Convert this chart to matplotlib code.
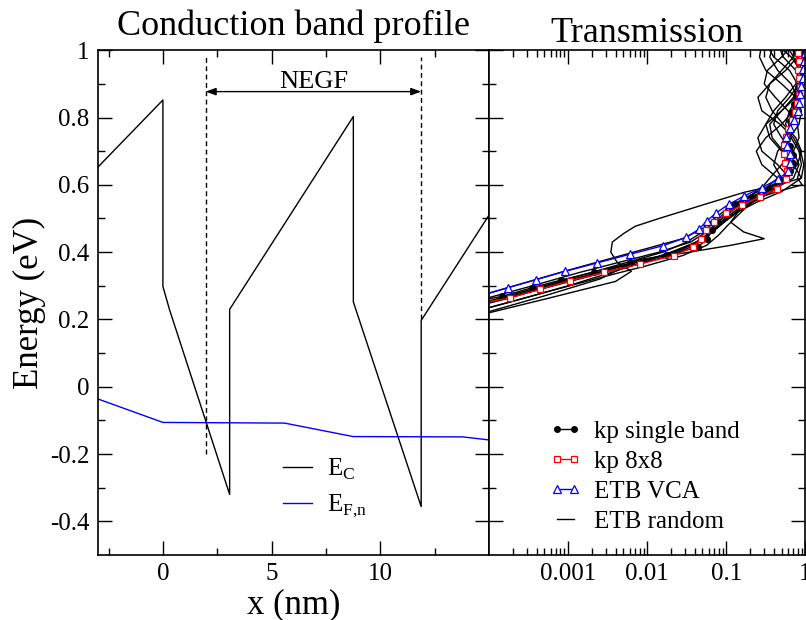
import numpy as np
import matplotlib
matplotlib.use('Agg')
import matplotlib.pyplot as plt
from matplotlib.ticker import FixedLocator, LogLocator, NullFormatter

plt.rcParams['font.family'] = ['Liberation Serif', 'DejaVu Serif']
plt.rcParams['mathtext.fontset'] = 'custom'
plt.rcParams['mathtext.rm'] = 'Liberation Serif'
plt.rcParams['axes.unicode_minus'] = False

# Conduction band profile (x in nm, energy in eV)
ec_x = [-3, 0, 0, 0.3, 3.07, 3.07, 8.76, 8.76, 11.88, 11.88, 15]
ec_e = [0.652, 0.852, 0.298, 0.23, -0.32, 0.23, 0.803, 0.252, -0.356, 0.197, 0.51]
ef_x = [-3, 0, 5.6, 8.75, 13.8, 15]
ef_e = [-0.036, -0.106, -0.108, -0.148, -0.149, -0.158]
negf_x = [1.97, 11.88]
negf_lo = [-0.2, 0.2]
negf_hi = 0.98
negf_arrow_e = 0.877

# Transmission: energy (eV) and log10(T)
sb_e = [0.244, 0.269, 0.294, 0.317, 0.341, 0.367, 0.391, 0.415, 0.44, 0.467, 0.49, 0.515,
        0.542, 0.565, 0.588, 0.615, 0.64, 0.665, 0.69, 0.715, 0.74, 0.765, 0.79, 0.815,
        0.84, 0.865, 0.89, 0.915, 0.94, 0.965, 0.99, 1.015]
sb_logt = [-4.38, -3.83, -3.46, -3.09, -2.67, -2.22, -1.76, -1.36, -1.24, -1.186, -1.1, -1.0,
           -0.884, -0.675, -0.474, -0.3, -0.2, -0.16, -0.15, -0.19, -0.23, -0.22, -0.2, -0.17,
           -0.14, -0.12, -0.09, -0.06, -0.035, -0.02, -0.012, -0.01]

kp8_e = [0.24, 0.264, 0.289, 0.315, 0.34, 0.365, 0.39, 0.415, 0.44, 0.465, 0.49, 0.515,
         0.54, 0.565, 0.589, 0.616, 0.641, 0.666, 0.692, 0.717, 0.742, 0.767, 0.792, 0.817,
         0.842, 0.867, 0.892, 0.917, 0.942, 0.967, 0.992, 1.017]
kp8_logt = [-4.25, -3.74, -3.36, -2.975, -2.54, -2.085, -1.66, -1.42, -1.323, -1.262, -1.15, -1.005,
            -0.805, -0.57, -0.358, -0.24, -0.235, -0.256, -0.264, -0.27, -0.25, -0.222, -0.17, -0.13,
            -0.1, -0.08, -0.065, -0.075, -0.095, -0.075, -0.095, -0.08]

vca_e = [0.269, 0.294, 0.318, 0.343, 0.368, 0.394, 0.419, 0.444, 0.468, 0.493, 0.517, 0.542,
         0.567, 0.592, 0.617, 0.641, 0.666, 0.691, 0.716, 0.742, 0.768, 0.793, 0.818, 0.844,
         0.869, 0.893, 0.918, 0.943, 0.968, 0.993, 1.018]
vca_logt = [-4.14, -3.765, -3.407, -3.037, -2.631, -2.212, -1.8, -1.507, -1.345, -1.245, -1.126, -0.969,
            -0.772, -0.55, -0.344, -0.214, -0.2, -0.19, -0.23, -0.243, -0.2, -0.138, -0.097, -0.075,
            -0.063, -0.05, -0.035, -0.025, -0.015, -0.01, -0.008]

rnd_e = [
    [0.214, 0.26, 0.313, 0.343, 0.37, 0.40, 0.43, 0.455, 0.477, 0.50, 0.54, 0.578, 0.60, 0.62,
     0.66, 0.70, 0.74, 0.78, 0.82, 0.86, 0.90, 0.94, 0.98, 1.02],
    [0.21, 0.27, 0.32, 0.378, 0.398, 0.42, 0.44, 0.46, 0.489, 0.52, 0.55, 0.58, 0.62,
     0.66, 0.70, 0.74, 0.78, 0.82, 0.86, 0.90, 0.94, 0.98, 1.02],
    [0.22, 0.278, 0.30, 0.343, 0.395, 0.44, 0.47, 0.50, 0.53, 0.56, 0.59, 0.62,
     0.66, 0.70, 0.74, 0.78, 0.82, 0.86, 0.90, 0.94, 0.98, 1.02],
    [0.215, 0.235, 0.28, 0.33, 0.36, 0.39, 0.42, 0.45, 0.48, 0.51, 0.54, 0.57, 0.60, 0.62,
     0.66, 0.70, 0.74, 0.78, 0.82, 0.86, 0.90, 0.94, 0.98, 1.02],
    [0.22, 0.265, 0.30, 0.34, 0.37, 0.40, 0.43, 0.46, 0.49, 0.52, 0.55, 0.58, 0.62,
     0.66, 0.70, 0.74, 0.78, 0.82, 0.86, 0.90, 0.94, 0.98, 1.02],
    [0.21, 0.26, 0.30, 0.34, 0.37, 0.40, 0.43, 0.46, 0.49, 0.52, 0.55, 0.58, 0.62,
     0.66, 0.70, 0.74, 0.78, 0.82, 0.86, 0.90, 0.94, 0.98, 1.02],
    [0.23, 0.255, 0.30, 0.34, 0.37, 0.40, 0.43, 0.46, 0.49, 0.52, 0.55, 0.58, 0.60, 0.62,
     0.66, 0.70, 0.74, 0.78, 0.82, 0.86, 0.90, 0.94, 0.98, 1.02],
    [0.225, 0.25, 0.29, 0.33, 0.36, 0.39, 0.42, 0.45, 0.48, 0.51, 0.54, 0.57, 0.60, 0.62,
     0.66, 0.70, 0.74, 0.78, 0.82, 0.86, 0.90, 0.94, 0.98, 1.02],
    [0.22, 0.26, 0.30, 0.34, 0.37, 0.40, 0.43, 0.46, 0.49, 0.52, 0.55, 0.58, 0.62,
     0.66, 0.70, 0.74, 0.78, 0.82, 0.86, 0.90, 0.94, 0.98, 1.02],
    [0.23, 0.27, 0.31, 0.35, 0.38, 0.41, 0.44, 0.47, 0.50, 0.53, 0.56, 0.59, 0.62,
     0.66, 0.70, 0.74, 0.78, 0.82, 0.86, 0.90, 0.94, 0.98, 1.02],
]
rnd_logt = [
    [-4.1, -3.3, -2.4, -2.2, -2.38, -2.46, -2.44, -2.3, -2.15, -1.85, -1.3, -0.77, -0.35, -0.05,
     -0.15, -0.30, -0.45, -0.50, -0.40, -0.25, -0.12, -0.08, -0.15, -0.25],
    [-4.2, -3.3, -2.6, -2.1, -1.52, -0.95, -0.52, -0.78, -0.944, -0.85, -0.65, -0.42, -0.20,
     -0.35, -0.55, -0.60, -0.50, -0.30, -0.15, -0.10, -0.20, -0.40, -0.50],
    [-4.85, -4.0, -3.68, -3.05, -2.25, -1.55, -1.3, -1.15, -0.98, -0.78, -0.5, -0.25,
     -0.10, -0.05, -0.12, -0.28, -0.42, -0.50, -0.45, -0.30, -0.15, -0.08],
    [-4.3, -4.0, -3.3, -2.5, -2.0, -1.55, -1.25, -1.1, -0.98, -0.85, -0.72, -0.55, -0.38, -0.30,
     -0.40, -0.35, -0.20, -0.08, -0.05, -0.12, -0.30, -0.50, -0.58, -0.55],
    [-4.65, -4.0, -3.45, -2.85, -2.35, -1.85, -1.45, -1.25, -1.1, -0.95, -0.75, -0.45, -0.15,
     -0.08, -0.15, -0.30, -0.40, -0.35, -0.20, -0.08, -0.05, -0.10, -0.20],
    [-4.4, -3.6, -3.0, -2.45, -2.05, -1.7, -1.38, -1.2, -1.05, -0.9, -0.72, -0.55, -0.35,
     -0.55, -0.62, -0.50, -0.30, -0.15, -0.10, -0.18, -0.35, -0.45, -0.40],
    [-4.35, -4.0, -3.3, -2.7, -2.25, -1.8, -1.5, -1.3, -1.15, -1.0, -0.75, -0.35, -0.04, -0.10,
     -0.05, -0.08, -0.18, -0.25, -0.20, -0.10, -0.05, -0.12, -0.28, -0.35],
    [-4.4, -4.0, -3.35, -2.7, -2.2, -1.7, -1.4, -1.22, -1.1, -0.98, -0.85, -0.68, -0.52, -0.45,
     -0.30, -0.15, -0.08, -0.10, -0.22, -0.38, -0.52, -0.48, -0.30, -0.15],
    [-4.5, -3.8, -3.2, -2.6, -2.15, -1.65, -1.35, -1.18, -1.02, -0.85, -0.6, -0.3, -0.05,
     -0.02, -0.06, -0.15, -0.32, -0.55, -0.60, -0.45, -0.25, -0.10, -0.05],
    [-4.3, -3.7, -3.1, -2.45, -1.95, -1.55, -1.3, -1.12, -0.98, -0.82, -0.62, -0.4, -0.28,
     -0.20, -0.28, -0.42, -0.45, -0.30, -0.12, -0.04, -0.06, -0.18, -0.38],
]

y_ticks = [-0.4, -0.2, 0, 0.2, 0.4, 0.6, 0.8, 1]
y_minor = [-0.3, -0.1, 0.1, 0.3, 0.5, 0.7, 0.9]
x_ticks = [0, 5, 10]
x_minor = [-2.5, 2.5, 7.5, 12.5]
t_ticks = [1e-3, 1e-2, 1e-1, 1]
t_labels = ['0.001', '0.01', '0.1', '1']

fig = plt.figure(figsize=(8.06, 6.2), dpi=100)
ax = fig.add_axes([0.1212, 0.1048, 0.4855, 0.8142])
ax2 = fig.add_axes([0.6067, 0.1048, 0.3925, 0.8142], sharey=ax)

for a in (ax, ax2):
    for s in a.spines.values():
        s.set_linewidth(1.2)
    a.tick_params(which='both', direction='in', top=True, right=True, width=1, labelsize=18)
    a.tick_params(which='major', length=10, pad=6)
    a.tick_params(which='minor', length=5)

# left panel
ax.plot(ec_x, ec_e, color='black', lw=1, label=r'E$_\mathrm{C}$')
ax.plot(ef_x, ef_e, color='blue', lw=1, label=r'E$_\mathrm{F{,}n}$')
for xv, lo in zip(negf_x, negf_lo):
    ax.plot([xv, xv], [lo, negf_hi], color='black', lw=1, ls=(0, (3.5, 2.5)))
ax.annotate('', xy=(negf_x[1], negf_arrow_e), xytext=(negf_x[0], negf_arrow_e),
            arrowprops=dict(arrowstyle='<|-|>,head_length=0.6,head_width=0.22',
                            color='black', lw=1, shrinkA=0, shrinkB=0))
ax.text(sum(negf_x) / 2, negf_arrow_e + 0.012, 'NEGF', ha='center', va='baseline', fontsize=19)

ax.set_xlim(-3, 15)
ax.set_ylim(-0.5, 1)
ax.xaxis.set_major_locator(FixedLocator(x_ticks))
ax.xaxis.set_minor_locator(FixedLocator(x_minor))
ax.set_xticklabels([f'{v:g}' for v in x_ticks])
ax.yaxis.set_major_locator(FixedLocator(y_ticks))
ax.yaxis.set_minor_locator(FixedLocator(y_minor))
ax.set_yticklabels([f'{v:g}' for v in y_ticks])
ax.set_xlabel('x (nm)', fontsize=25, labelpad=2)
ax.set_ylabel('Energy (eV)', fontsize=25, labelpad=3)
ax.set_title('Conduction band profile', fontsize=26, pad=11)
ax.legend(loc='upper left', bbox_to_anchor=(0.4736, 0.195), frameon=False, fontsize=18,
          handlelength=1.16, handletextpad=0.6, labelspacing=0.45, borderpad=0, borderaxespad=0)

# right panel
for i, (e, lt) in enumerate(zip(rnd_e, rnd_logt)):
    ax2.plot(10 ** np.array(lt), e, color='black', lw=1,
             label='ETB random' if i == 0 else None)
ax2.plot(10 ** np.array(sb_logt), sb_e, color='black', lw=1, marker='o', ms=4,
         label='kp single band')
ax2.plot(10 ** np.array(kp8_logt), kp8_e, color='red', lw=1, marker='s', ms=5,
         mfc='white', mew=0.9, label='kp 8x8')
ax2.plot(10 ** np.array(vca_logt), vca_e, color='blue', lw=1, marker='^', ms=6,
         mfc='white', mew=0.9, label='ETB VCA')
ax2.set_xscale('log')
ax2.set_xlim(1e-4, 1)
ax2.xaxis.set_major_locator(FixedLocator(t_ticks))
ax2.xaxis.set_minor_locator(LogLocator(base=10, subs=[2, 3, 4, 5, 6, 7, 8, 9], numticks=20))
ax2.xaxis.set_minor_formatter(NullFormatter())
ax2.set_xticklabels(t_labels)
ax2.tick_params(labelleft=False)
ax2.set_title('Transmission', fontsize=26, pad=6)
h, l = ax2.get_legend_handles_labels()
order = [l.index('kp single band'), l.index('kp 8x8'), l.index('ETB VCA'), l.index('ETB random')]
ax2.legend([h[k] for k in order], [l[k] for k in order], loc='upper left',
           bbox_to_anchor=(0.19, 0.267), frameon=False, fontsize=18, numpoints=2,
           handlelength=1.28, handletextpad=0.52, labelspacing=0.3, borderpad=0, borderaxespad=0)

fig.savefig('out.png', dpi=100)
